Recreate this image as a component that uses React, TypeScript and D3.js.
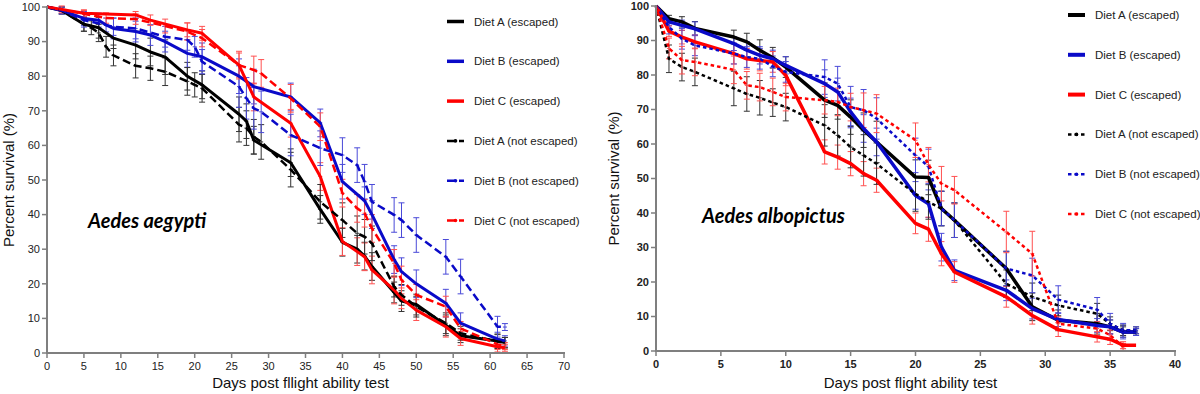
import React from 'react';
import * as d3 from 'd3';

// ---- Aedes aegypti (left panel) ----
const aegDaysA = [0, 2, 5, 7, 9, 12, 14, 16, 19, 21, 26, 27, 28, 33, 37, 40, 42, 43, 44, 47, 48, 50, 54, 56, 61, 62];
const aegA = [100, 99, 95, 94, 91, 89, 87, 85.5, 80, 77.5, 69, 67, 61.5, 55, 41.5, 32, 30, 28, 25, 17.5, 15, 14, 8, 5, 3.5, 3];
const aegErrA = [0.5, 1, 2, 3, 3, 4, 4, 5, 4, 4, 5, 5, 4, 4, 4, 4, 4, 4, 4, 3, 3, 3, 3, 2, 2, 1.5];

const aegDaysB = [0, 2, 5, 7, 8, 9, 12, 14, 16, 19, 21, 26, 28, 33, 37, 40, 43, 44, 47, 48, 50, 54, 56, 61, 62];
const aegB = [100, 99, 96.7, 96.2, 94.8, 93.8, 92.9, 91.9, 90, 86.6, 85.6, 80, 77, 74, 66.5, 49.5, 44, 40, 27, 23.5, 20, 14.4, 8.6, 4, 3.5];
const aegErrB = [0.5, 1, 2, 2, 2, 3, 3, 3, 3, 4, 4, 5, 5, 4, 4, 5, 4, 4, 4, 4, 4, 4, 3, 2, 1.5];

const aegDaysC = [0, 5, 12, 14, 19, 21, 26, 28, 33, 37, 40, 42, 43, 44, 47, 48, 50, 54, 56, 61, 62];
const aegC = [100, 98.2, 97.7, 96.2, 93.4, 92.4, 83.2, 74, 66.4, 51, 32.2, 29.3, 27.8, 24, 18.2, 15.8, 12.4, 7.6, 4.2, 1.8, 1.5];
const aegErrC = [0.5, 1, 1, 1.5, 2, 2, 3.5, 4, 4, 4, 4, 4, 4, 4, 4, 3, 3, 3, 2, 1.5, 1];

const aegDaysAn = [0, 2, 5, 6, 7, 8, 9, 12, 14, 16, 19, 20, 21, 26, 27, 28, 29, 33, 37, 40, 42, 43, 44, 47, 48, 50, 54, 56, 61, 62];
const aegAn = [100, 99, 95, 94, 92.5, 88.5, 86, 83, 82.3, 81.3, 78.5, 77.5, 76.5, 66, 65, 62.5, 61, 53, 43.7, 38.4, 34.6, 33.6, 31.7, 19.2, 16.8, 13.4, 8.6, 5.7, 3.3, 3];
const aegErrAn = [0.5, 1, 2, 2, 2.5, 3, 3, 3.5, 3.5, 4, 4, 3.5, 4, 5, 5, 5, 5, 5, 5, 5, 5, 5, 5, 3, 3, 3, 3, 2, 2, 1.5];

const aegDaysBn = [0, 2, 5, 9, 12, 16, 19, 20, 21, 26, 27, 28, 29, 33, 37, 40, 42, 43, 44, 47, 48, 50, 54, 56, 61, 62];
const aegBn = [100, 99, 96.2, 94.3, 93.8, 91.4, 90.5, 88.5, 84.2, 77, 73.6, 70.7, 69.7, 63, 59.2, 57.2, 54.3, 49.5, 43.7, 39.9, 38.4, 34.1, 27.8, 22.1, 7.6, 7.5];
const aegErrBn = [0.5, 1, 2, 2.5, 3, 3, 3, 3, 3.5, 6, 6, 6, 6, 6, 5, 5, 5, 5, 5, 5, 5, 5, 5, 5, 3, 1];

const aegDaysCn = [0, 2, 5, 8, 12, 16, 19, 21, 26, 28, 29, 33, 37, 40, 42, 43, 44, 47, 48, 50, 54, 56, 61, 62];
const aegCn = [100, 99.3, 98, 96.8, 96.5, 94.5, 92.9, 91, 83.2, 81.8, 80.8, 73.6, 65.4, 46.2, 41.8, 40.4, 36, 25.9, 21.1, 16.8, 13.4, 7.1, 2.5, 2];
const aegErrCn = [0.5, 1, 1, 1.5, 1.5, 2, 2.5, 2.5, 4, 4, 4, 4, 4, 4, 4, 4, 4, 4, 4, 3, 3, 2, 1.5, 1];

// ---- Aedes albopictus (right panel) ----
const albDays = [0, 1, 2, 3, 6, 7, 8, 9, 10, 13, 14, 15, 16, 17, 20, 21, 22, 23, 27, 29, 31, 34, 35, 36, 37];
const albA = [100, 96.3, 95.4, 93.5, 91, 89.6, 87.2, 85, 82.3, 72.7, 71.2, 67.8, 64, 60.6, 50.4, 50.3, 41.3, 37.9, 23.9, 12.8, 8.9, 7.9, 7, 5.5, 5.5];
const albErrA = [0.5, 1, 1.5, 2, 2, 2.5, 3, 3, 3, 5, 4, 5, 5, 6, 5, 5, 5, 5, 5, 4, 3, 3, 2, 1.5, 1];
const albB = [100, 95.4, 94.4, 93.4, 89.1, 87.2, 85.7, 84.7, 82.8, 77.5, 75.1, 69.3, 64.5, 60.6, 45.1, 42.7, 30.1, 23.4, 17.6, 12.3, 9.1, 7.4, 7, 5.5, 5.5];
const albErrB = [0.5, 1, 1.5, 2, 2, 2.5, 2.5, 2.5, 2.5, 4, 4, 4, 4, 4, 4, 4, 4, 3, 3, 3, 2, 2, 2, 2, 1];
const albC = [100, 92.7, 91, 89.6, 86.2, 84.7, 84.2, 83.8, 79.9, 57.7, 56.2, 54.3, 51.4, 49.5, 37, 35.3, 28.2, 22.9, 15.7, 10.3, 6.2, 4.1, 3.4, 1.7, 1.7];
const albErrC = [0.5, 1.5, 2, 2, 3, 3, 3, 3, 3, 3.5, 3.5, 3.5, 3.5, 3.5, 3, 3.5, 3.5, 3, 3, 2.5, 2, 1.5, 1.5, 1, 0.5];
const albAn = [100, 84.7, 82.3, 80.9, 76.1, 74.5, 73.4, 72, 70.7, 65.4, 62.5, 59.1, 56.7, 54.3, 45.5, 43.2, 41.3, 37.9, 19.5, 15.7, 13.2, 10.8, 7.9, 6, 6];
const albErrAn = [0.5, 4, 4, 4, 5, 5, 5, 4, 4, 6, 6, 6, 6, 6, 5, 5, 5, 5, 4, 4, 3, 3, 2, 1.5, 1];
const albBn = [100, 93.9, 90.5, 88.6, 86.2, 85.2, 84.7, 82.5, 80.9, 79.4, 77.5, 70.7, 69.8, 67.4, 56.7, 53.5, 41.3, 37.9, 23.9, 21.9, 14.9, 12, 7.9, 6, 6];
const albErrBn = [0.5, 2, 3, 3, 3, 3, 3, 3, 3, 5, 5, 6, 6, 6, 5, 5, 5, 5, 5, 5, 4, 3.5, 3, 2, 1];
const albDaysCn = [0, 1, 2, 3, 6, 7, 8, 9, 10, 13, 14, 15, 16, 17, 20, 21, 22, 23, 27, 29, 31, 34, 35, 36];
const albCn = [100, 87.7, 84.3, 83.8, 81.5, 77, 76.5, 75.1, 73.6, 72.7, 72.2, 70.7, 69.8, 68.8, 61.1, 54, 48.5, 46.6, 34.5, 28.2, 7.9, 6.5, 4.6, 1.2];
const albErrCn = [0.5, 3, 4, 4, 4, 4, 4, 4, 4, 4, 4, 4, 5, 5.5, 5, 5, 5, 4, 6, 6.5, 2, 2, 1.5, 1];

const legendLabels = [
  'Diet A (escaped)',
  'Diet B (escaped)',
  'Diet C (escaped)',
  'Diet A (not escaped)',
  'Diet B (not escaped)',
  'Diet C (not escaped)',
];

const BLACK = '#000000';
const BLUE = '#0a0ac8';
const RED = '#ff0000';
const FONT = '"Liberation Sans", Arial, sans-serif';

type Series = {
  days: number[];
  vals: number[];
  errs: number[];
  color: string;
  errColor: string;
  dashed: boolean;
};

const mk = (days: number[], vals: number[], errs: number[], color: string, errColor: string, dashed: boolean): Series => ({
  days, vals, errs, color, errColor, dashed,
});

const aegSeries = [
  mk(aegDaysA, aegA, aegErrA, BLACK, '#333', false),
  mk(aegDaysB, aegB, aegErrB, BLUE, '#4a4ad8', false),
  mk(aegDaysC, aegC, aegErrC, RED, '#ff5050', false),
  mk(aegDaysAn, aegAn, aegErrAn, BLACK, '#333', true),
  mk(aegDaysBn, aegBn, aegErrBn, BLUE, '#4a4ad8', true),
  mk(aegDaysCn, aegCn, aegErrCn, RED, '#ff5050', true),
];

const albSeries = [
  mk(albDays, albA, albErrA, BLACK, '#333', false),
  mk(albDays, albB, albErrB, BLUE, '#4a4ad8', false),
  mk(albDays, albC, albErrC, RED, '#ff5050', false),
  mk(albDays, albAn, albErrAn, BLACK, '#333', true),
  mk(albDays, albBn, albErrBn, BLUE, '#4a4ad8', true),
  mk(albDaysCn, albCn, albErrCn, RED, '#ff5050', true),
];

type PanelProps = {
  x0: number; x1: number; y0: number; y1: number;
  xMax: number;
  series: Series[];
  dash: string;
  boldTicks: boolean;
  xTitle: string;
  yTitleX: number;
  species: string;
  speciesX: number; speciesY: number;
  legX: number; legY: number;
  solidW: number; dashW: number;
};

const Panel = (p: PanelProps) => {
  const x = d3.scaleLinear().domain([0, p.xMax]).range([p.x0, p.x1]);
  const y = d3.scaleLinear().domain([0, 100]).range([p.y0, p.y1]);
  const line = d3.line<[number, number]>().x((d) => x(d[0])).y((d) => y(d[1]));
  const xTicks = d3.range(0, p.xMax + 1, 5);
  const yTicks = d3.range(0, 101, 10);
  const axisColor = '#7f7f7f';

  return (
    <g>
      {/* error bars */}
      {p.series.map((s, si) => (
        <g key={'e' + si} stroke={s.errColor} strokeWidth={1}>
          {s.days.map((d, i) => {
            const e = s.errs[i];
            if (e <= 0.6) return null;
            const cx = x(d);
            const top = y(s.vals[i] + e);
            const bot = y(Math.max(0, s.vals[i] - e));
            return (
              <g key={i}>
                <line x1={cx} x2={cx} y1={top} y2={bot} />
                <line x1={cx - 3} x2={cx + 3} y1={top} y2={top} />
                <line x1={cx - 3} x2={cx + 3} y1={bot} y2={bot} />
                <line x1={cx - 2} x2={cx + 2} y1={y(s.vals[i])} y2={y(s.vals[i])} />
              </g>
            );
          })}
        </g>
      ))}
      {/* lines */}
      {p.series.map((s, si) => (
        <path
          key={'l' + si}
          d={line(s.days.map((d, i) => [d, s.vals[i]] as [number, number])) || ''}
          fill="none"
          stroke={s.color}
          strokeWidth={s.dashed ? p.dashW : p.solidW}
          strokeDasharray={s.dashed ? p.dash : undefined}
          strokeLinejoin="round"
        />
      ))}
      {/* axes */}
      <line x1={p.x0} x2={p.x0} y1={p.y0 + 1} y2={p.y1 - 1} stroke={axisColor} strokeWidth={2} />
      <line x1={p.x0 - 1} x2={p.x1 + 1} y1={p.y0} y2={p.y0} stroke={axisColor} strokeWidth={2} />
      {yTicks.map((t) => (
        <g key={'y' + t}>
          <line x1={p.x0 - 5} x2={p.x0} y1={y(t)} y2={y(t)} stroke={axisColor} strokeWidth={1.5} />
          <text
            x={p.x0 - 7}
            y={y(t)}
            dy="0.35em"
            textAnchor="end"
            fontSize={11}
            fontWeight={p.boldTicks ? 'bold' : 'normal'}
            fill="#222"
            fontFamily={FONT}
          >
            {t}
          </text>
        </g>
      ))}
      {xTicks.map((t) => (
        <g key={'x' + t}>
          <line x1={x(t)} x2={x(t)} y1={p.y0} y2={p.y0 + 5} stroke={axisColor} strokeWidth={1.5} />
          <text
            x={x(t)}
            y={p.y0 + 17}
            textAnchor="middle"
            fontSize={11}
            fontWeight={p.boldTicks ? 'bold' : 'normal'}
            fill="#222"
            fontFamily={FONT}
          >
            {t}
          </text>
        </g>
      ))}
      <text
        x={(p.x0 + p.x1) / 2 - 5}
        y={388}
        textAnchor="middle"
        fontSize={15}
        fill="#111"
        fontFamily={FONT}
      >
        {p.xTitle}
      </text>
      <text
        transform={`translate(${p.yTitleX},${(p.y0 + p.y1) / 2}) rotate(-90)`}
        textAnchor="middle"
        fontSize={15}
        fill="#111"
        fontFamily={FONT}
      >
        Percent survival (%)
      </text>
      <text
        x={p.speciesX}
        y={p.speciesY}
        fontSize={20}
        fontWeight="bold"
        fontStyle="italic"
        fill="#000"
        fontFamily='Lato, "Open Sans", sans-serif'
      >
        {p.species}
      </text>
      {/* legend */}
      {p.series.map((s, i) => {
        const ly = p.legY + i * 39.8;
        return (
          <g key={'lg' + i}>
            <line
              x1={p.legX}
              x2={p.legX + 17}
              y1={ly}
              y2={ly}
              stroke={s.color}
              strokeWidth={s.dashed ? p.dashW : p.solidW + 0.5}
              strokeDasharray={s.dashed ? p.dash : undefined}
            />
            {s.dashed && <circle cx={p.legX + 8.5} cy={ly} r={1.8} fill={s.color} />}
            <text x={p.legX + 27} y={ly} dy="0.35em" fontSize={11.5} fill="#222" fontFamily={FONT}>
              {legendLabels[i]}
            </text>
          </g>
        );
      })}
    </g>
  );
};

export default function App() {
  return (
    <svg
      width={1200}
      height={394}
      style={{ position: 'absolute', left: 0, top: 0, background: '#fff' }}
    >
      <Panel
        x0={47} x1={564} y0={353} y1={7}
        xMax={70}
        series={aegSeries}
        dash="8,4"
        boldTicks={false}
        xTitle="Days post fllight ability test"
        yTitleX={14}
        species="Aedes aegypti"
        speciesX={88} speciesY={228}
        legX={447} legY={21.5}
        solidW={3} dashW={2.5}
      />
      <Panel
        x0={656} x1={1175} y0={351} y1={6}
        xMax={40}
        series={albSeries}
        dash="3.5,3"
        boldTicks={true}
        xTitle="Days post flight ability test"
        yTitleX={619}
        species="Aedes albopictus"
        speciesX={702} speciesY={223}
        legX={1068} legY={15}
        solidW={3.5} dashW={2.5}
      />
    </svg>
  );
}
